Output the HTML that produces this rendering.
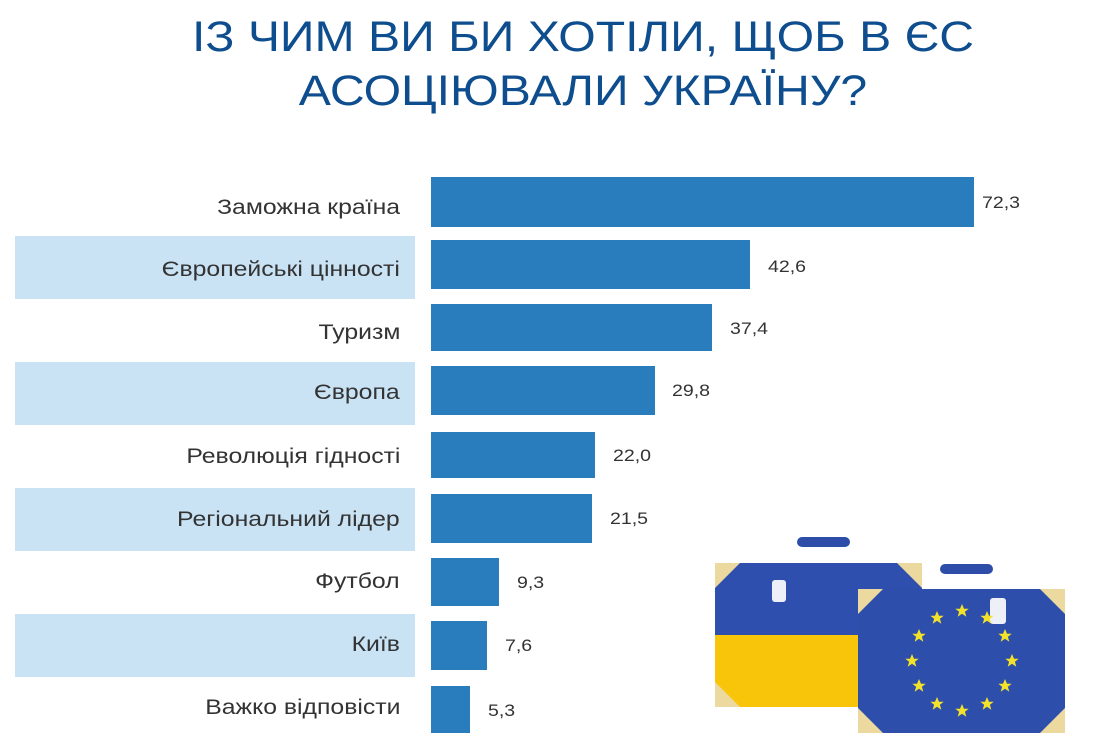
<!DOCTYPE html>
<html><head><meta charset="utf-8"><style>
body{margin:0;width:1119px;height:750px;background:#fff;position:relative;overflow:hidden;font-family:"Liberation Sans",sans-serif}
.t{position:absolute;left:0;width:1166px;text-align:center;color:#0e4d8e;font-size:43px;line-height:1;transform:scaleX(1.12);transform-origin:583px 0}
.band{position:absolute;left:15px;width:400px;height:63px;background:#c9e3f5}
.lab{position:absolute;right:719px;font-size:21px;color:#333;line-height:20px;white-space:nowrap;transform:scaleX(1.18);transform-origin:100% 0}
.bar{position:absolute;left:431px;background:#2a7dbd}
.val{position:absolute;font-size:17px;color:#333;line-height:20px;transform:scaleX(1.15);transform-origin:0 0}
</style></head><body>
<div class="t" style="top:16px">ІЗ ЧИМ ВИ БИ ХОТІЛИ, ЩОБ В ЄС</div>
<div class="t" style="top:70px">АСОЦІЮВАЛИ УКРАЇНУ?</div>
<div class="band" style="top:236px"></div>
<div class="band" style="top:362px"></div>
<div class="band" style="top:488px"></div>
<div class="band" style="top:614px"></div>

<div class="bar" style="top:177px;height:50px;width:543px"></div><div class="lab" style="top:198px">Заможна країна</div><div class="val" style="left:982px;top:193px">72,3</div>
<div class="bar" style="top:240px;height:49px;width:319px"></div><div class="lab" style="top:260px">Європейські цінності</div><div class="val" style="left:768px;top:257px">42,6</div>
<div class="bar" style="top:304px;height:47px;width:281px"></div><div class="lab" style="top:323px">Туризм</div><div class="val" style="left:730px;top:319px">37,4</div>
<div class="bar" style="top:366px;height:49px;width:224px"></div><div class="lab" style="top:383px">Європа</div><div class="val" style="left:672px;top:381px">29,8</div>
<div class="bar" style="top:432px;height:46px;width:164px"></div><div class="lab" style="top:447px">Революція гідності</div><div class="val" style="left:613px;top:446px">22,0</div>
<div class="bar" style="top:494px;height:49px;width:161px"></div><div class="lab" style="top:510px">Регіональний лідер</div><div class="val" style="left:610px;top:509px">21,5</div>
<div class="bar" style="top:558px;height:48px;width:68px"></div><div class="lab" style="top:572px">Футбол</div><div class="val" style="left:517px;top:573px">9,3</div>
<div class="bar" style="top:621px;height:49px;width:56px"></div><div class="lab" style="top:635px">Київ</div><div class="val" style="left:505px;top:636px">7,6</div>
<div class="bar" style="top:686px;height:47px;width:39px"></div><div class="lab" style="top:698px">Важко відповісти</div><div class="val" style="left:488px;top:701px">5,3</div>

<svg style="position:absolute;left:0;top:0" width="1119" height="750">
<defs><polygon id="s" points="0,-7 2,-2.2 6.7,-2.2 2.9,0.8 4.3,5.7 0,2.8 -4.3,5.7 -2.9,0.8 -6.7,-2.2 -2,-2.2" fill="#f3e22a"/></defs>
<rect x="797" y="537" width="53" height="10" rx="5" fill="#2d4da8"/>
<rect x="715" y="563" width="207" height="72" fill="#2f4fae"/>
<rect x="715" y="635" width="207" height="72" fill="#f8c50a"/>
<path d="M715 563h25l-25 25z M922 563h-25l25 25z M715 707h25l-25-25z" fill="#ecd9a0"/>
<rect x="772" y="580" width="14" height="22" rx="3" fill="#eef0f8"/>
<rect x="940" y="564" width="53" height="10" rx="5" fill="#2d4da8"/>
<rect x="858" y="589" width="207" height="144" rx="4" fill="#2e4eab"/>
<path d="M858 589h25l-25 25z M1065 589h-25l25 25z M858 733h25l-25-25z M1065 733h-25l25-25z" fill="#ecd9a0"/>
<rect x="990" y="598" width="16" height="26" rx="3" fill="#eef0f8"/>
<g transform="translate(962,661)">
<use href="#s" x="0" y="-50"/><use href="#s" x="25" y="-43"/><use href="#s" x="43" y="-25"/><use href="#s" x="50" y="0"/><use href="#s" x="43" y="25"/><use href="#s" x="25" y="43"/><use href="#s" x="0" y="50"/><use href="#s" x="-25" y="43"/><use href="#s" x="-43" y="25"/><use href="#s" x="-50" y="0"/><use href="#s" x="-43" y="-25"/><use href="#s" x="-25" y="-43"/>
</g>
</svg>
</body></html>
